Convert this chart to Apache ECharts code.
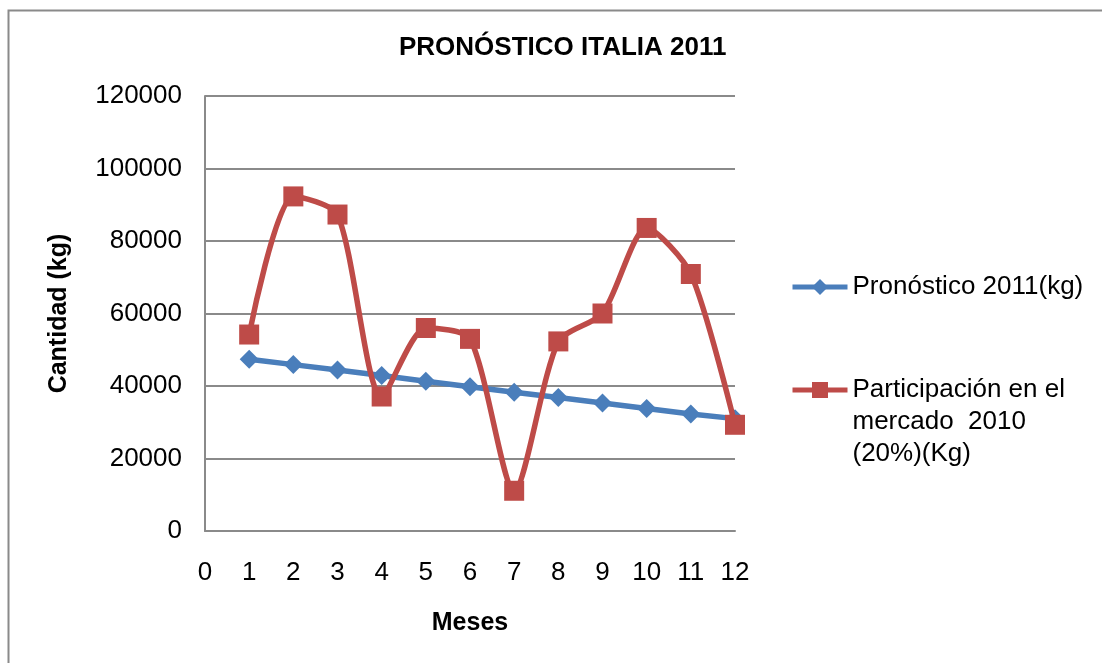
<!DOCTYPE html>
<html>
<head>
<meta charset="utf-8">
<script src="https://cdn.jsdelivr.net/npm/echarts@6/dist/echarts.min.js"></script>
<style>
html,body{margin:0;padding:0;background:#fff;}
#chart{width:1102px;height:663px;}
</style>
</head>
<body>
<div id="chart"></div>
<script>
var meses = [1, 2, 3, 4, 5, 6, 7, 8, 9, 10, 11, 12];
var pronostico2011 = [47400, 45900, 44400, 42900, 41300, 39800, 38300, 36800, 35300, 33800, 32300, 31000];
var participacion2010 = [54200, 92300, 87300, 37100, 56000, 53000, 11100, 52300, 60000, 83600, 70900, 29300];
var yTicks = [0, 20000, 40000, 60000, 80000, 100000, 120000];
var xTicks = [0, 1, 2, 3, 4, 5, 6, 7, 8, 9, 10, 11, 12];

var nameBlue = 'Pronóstico 2011(kg)';
var nameRed = 'Participación en el\nmercado  2010\n(20%)(Kg)';

function pairs(xs, ys) { return xs.map(function (x, i) { return [x, ys[i]]; }); }

var FONT = '"Liberation Sans", Arial, sans-serif';
var chart = echarts.init(document.getElementById('chart'));
chart.setOption({
  animation: false,
  backgroundColor: '#ffffff',
  title: {
    text: 'PRONÓSTICO ITALIA 2011',
    left: 399, top: 35, padding: 0,
    textStyle: { fontFamily: FONT, fontSize: 26, fontWeight: 'bold', color: '#000' }
  },
  graphic: [{
    type: 'rect', shape: { x: 8.5, y: 10.5, width: 1200, height: 800 },
    style: { fill: 'none', stroke: '#8a8a8a', lineWidth: 2 }, silent: true
  }],
  grid: { left: 205, right: 367, top: 96, bottom: 132 },
  xAxis: {
    type: 'value', min: xTicks[0], max: xTicks[xTicks.length - 1], interval: 1,
    name: 'Meses', nameLocation: 'middle', nameGap: 80,
    nameTextStyle: { fontFamily: FONT, fontSize: 25, fontWeight: 'bold', color: '#000' },
    axisLine: { show: true, lineStyle: { color: '#8a8a8a', width: 2 } },
    axisTick: { show: false },
    splitLine: { show: false },
    axisLabel: { fontFamily: FONT, fontSize: 26, color: '#000', margin: 29,
      formatter: function (v) { return String(v); } }
  },
  yAxis: {
    type: 'value', min: yTicks[0], max: yTicks[yTicks.length - 1], interval: 20000,
    name: 'Cantidad (kg)', nameLocation: 'middle', nameGap: 133, nameRotate: 90,
    nameTextStyle: { fontFamily: FONT, fontSize: 25, fontWeight: 'bold', color: '#000' },
    axisLine: { show: true, lineStyle: { color: '#8a8a8a', width: 2 } },
    axisTick: { show: false },
    splitLine: { show: true, lineStyle: { color: '#8a8a8a', width: 2 } },
    axisLabel: { fontFamily: FONT, fontSize: 26, color: '#000', margin: 23,
      formatter: function (v) { return String(v); } }
  },
  legend: [{
    data: [nameBlue], orient: 'vertical', left: 790, top: 272, padding: 0,
    itemWidth: 55, itemHeight: 20,
    lineStyle: { width: 5 },
    textStyle: { fontFamily: FONT, fontSize: 26, color: '#000', lineHeight: 30 }
  }, {
    data: [nameRed],
    formatter: function (n) { return '\n\n' + n; },
    orient: 'vertical', left: 790, top: 310, padding: 0,
    itemWidth: 55, itemHeight: 20,
    lineStyle: { width: 5 },
    textStyle: { fontFamily: FONT, fontSize: 26, color: '#000', lineHeight: 32 }
  }],
  series: [{
    name: nameBlue, type: 'line', data: pairs(meses, pronostico2011),
    symbol: 'diamond', symbolSize: 19,
    lineStyle: { color: '#4A7EBB', width: 5.5 },
    itemStyle: { color: '#4A7EBB' }, z: 2
  }, {
    name: nameRed, type: 'line', data: pairs(meses, participacion2010),
    symbol: 'rect', symbolSize: 20, smooth: 0.25,
    lineStyle: { color: '#BE4B48', width: 5.5 },
    itemStyle: { color: '#BE4B48' }, z: 3
  }]
});
</script>
</body>
</html>
